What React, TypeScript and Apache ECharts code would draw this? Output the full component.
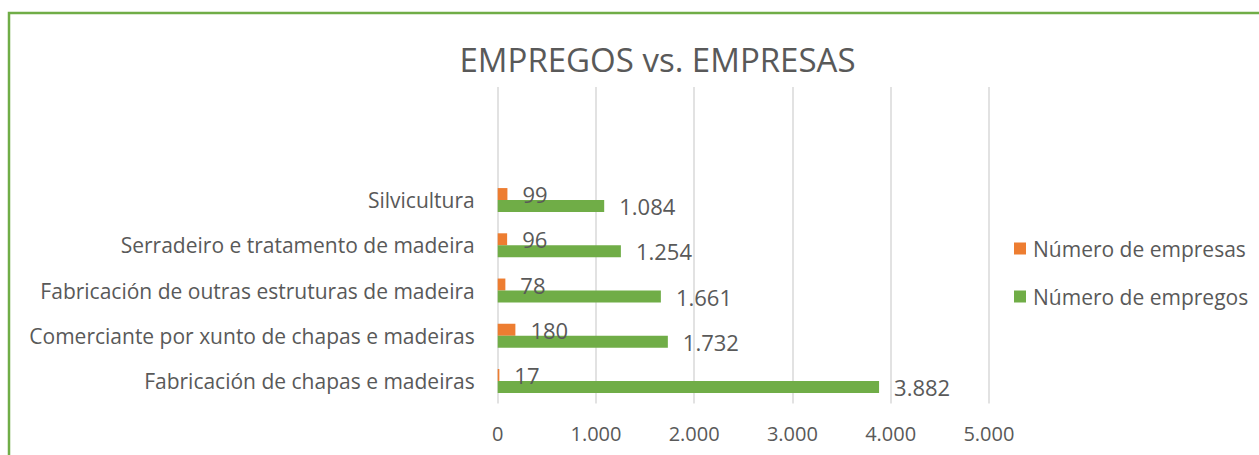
import React, { useEffect, useRef } from "react";
import * as echarts from "echarts";

const categories = [
  "Fabricación de chapas e madeiras",
  "Comerciante por xunto de chapas e madeiras",
  "Fabricación de outras estruturas de madeira",
  "Serradeiro e tratamento de madeira",
  "Silvicultura",
];
const empresas = [17, 180, 78, 96, 99];
const empregos = [3882, 1732, 1661, 1254, 1084];
const seriesNames = ["Número de empresas", "Número de empregos"];
const titleText = "EMPREGOS vs. EMPRESAS";

const FONT = "'Open Sans', 'Noto Sans', sans-serif";
const GRAY = "#595959";

function fmt(v: number): string {
  return String(Math.round(v)).replace(/\B(?=(\d{3})+(?!\d))/g, ".");
}

export default function App() {
  const ref = useRef<HTMLDivElement>(null);
  useEffect(() => {
    if (!ref.current) return;
    const chart = echarts.init(ref.current, null, { renderer: "svg" });
    const label = {
      show: true,
      position: "right",
      distance: 15,
      color: GRAY,
      fontSize: 22,
      fontFamily: FONT,
      formatter: (p: any) => fmt(p.value),
    };
    chart.setOption({
      animation: false,
      textStyle: { fontFamily: FONT },
      graphic: [
        {
          type: "rect",
          shape: { x: 9, y: 13, width: 1400, height: 600 },
          style: { fill: "none", stroke: "#70AD47", lineWidth: 2.5 },
          silent: true,
        },
        {
          type: "text",
          x: 657.5,
          y: 59,
          style: {
            text: titleText,
            fill: GRAY,
            font: `33px ${FONT}`,
            textAlign: "center",
            textVerticalAlign: "middle",
          },
        },
      ],
      grid: { left: 497.7, right: 270.1, top: 87, bottom: 51.4, containLabel: false },
      legend: {
        orient: "vertical",
        left: 1014,
        top: 238,
        padding: 0,
        itemWidth: 12,
        itemHeight: 12,
        itemGap: 27,
        icon: "rect",
        data: seriesNames,
        textStyle: { color: GRAY, fontSize: 21, fontFamily: FONT, padding: [0, 0, 0, 2] },
      },
      xAxis: {
        type: "value",
        min: 0,
        max: 5000,
        interval: 1000,
        axisLine: { show: false },
        axisTick: { show: false },
        splitLine: { lineStyle: { color: "#d9d9d9", width: 1.5 } },
        axisLabel: { color: GRAY, fontSize: 20, margin: 20, formatter: (v: number) => fmt(v) },
      },
      yAxis: {
        type: "category",
        data: categories,
        max: 6,
        axisLine: { show: false },
        axisTick: { show: false },
        axisLabel: { color: GRAY, fontSize: 21, margin: 23 },
      },
      series: [
        {
          name: seriesNames[0],
          type: "bar",
          data: empresas,
          barWidth: 12,
          barGap: "0%",
          itemStyle: { color: "#ED7D31" },
          label,
        },
        {
          name: seriesNames[1],
          type: "bar",
          data: empregos,
          barWidth: 12,
          barGap: "0%",
          itemStyle: { color: "#70AD47" },
          label,
        },
      ],
    });
    return () => chart.dispose();
  }, []);
  return (
    <div
      ref={ref}
      style={{ position: "absolute", left: 0, top: 0, width: 1259, height: 455 }}
    />
  );
}
